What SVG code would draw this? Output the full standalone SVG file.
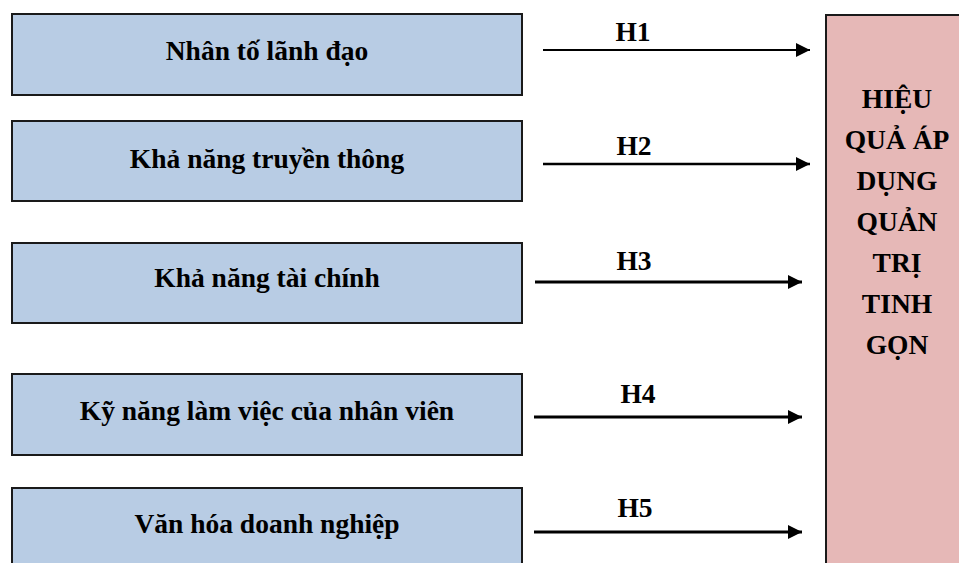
<svg xmlns="http://www.w3.org/2000/svg" width="959" height="563" viewBox="0 0 959 563">
  <style>
    .factor { fill: #b8cce4; stroke: #1a1a1a; stroke-width: 2; }
    .outcome { fill: #e6b8b7; stroke: #1a1a1a; stroke-width: 2; }
    .lbl { font-family: 'Liberation Serif', 'Times New Roman', 'DejaVu Serif', serif; font-weight: 700; font-size: 27.5px; fill: #000; text-anchor: middle; }
    .link { stroke: #000; fill: none; }
  </style>
  <defs>
    <marker id="arrow" markerUnits="userSpaceOnUse" markerWidth="15" markerHeight="15" refX="14" refY="7" orient="auto">
      <path d="M0,0 L14,7 L0,14 Z" fill="#000"/>
    </marker>
  </defs>
  <rect width="959" height="563" fill="#ffffff"/>

  <!-- factor boxes -->
  <g id="leadership">
    <rect class="factor" x="12" y="14" width="510" height="81"/>
    <text class="lbl" x="267" y="60" font-family="Liberation Serif, serif">Nhân tố lãnh đạo</text>
  </g>
  <g id="communication">
    <rect class="factor" x="12" y="121" width="510" height="80"/>
    <text class="lbl" x="267" y="168">Khả năng truyền thông</text>
  </g>
  <g id="finance">
    <rect class="factor" x="12" y="243" width="510" height="80"/>
    <text class="lbl" x="267" y="287">Khả năng tài chính</text>
  </g>
  <g id="staff-skills">
    <rect class="factor" x="12" y="374" width="510" height="81"/>
    <text class="lbl" x="267" y="420">Kỹ năng làm việc của nhân viên</text>
  </g>
  <g id="culture">
    <rect class="factor" x="12" y="488" width="510" height="90"/>
    <text class="lbl" x="267" y="533">Văn hóa doanh nghiệp</text>
  </g>

  <!-- outcome box -->
  <g id="lean-outcome">
    <rect class="outcome" x="826" y="15" width="145" height="560"/>
    <text class="lbl" x="897" y="108">HIỆU</text>
    <text class="lbl" x="897" y="149">QUẢ ÁP</text>
    <text class="lbl" x="897" y="190">DỤNG</text>
    <text class="lbl" x="897" y="231">QUẢN</text>
    <text class="lbl" x="897" y="272">TRỊ</text>
    <text class="lbl" x="897" y="313">TINH</text>
    <text class="lbl" x="897" y="354">GỌN</text>
  </g>

  <!-- hypotheses connectors -->
  <g id="connectors">
    <line class="link" x1="543" y1="50" x2="810" y2="50" stroke-width="2.2" marker-end="url(#arrow)"/>
    <text class="lbl" x="633" y="41">H1</text>
    <line class="link" x1="543" y1="164" x2="810" y2="164" stroke-width="2.6" marker-end="url(#arrow)"/>
    <text class="lbl" x="634" y="155">H2</text>
    <line class="link" x1="535" y1="282" x2="802" y2="282" stroke-width="3" marker-end="url(#arrow)"/>
    <text class="lbl" x="634" y="270">H3</text>
    <line class="link" x1="534" y1="417" x2="802" y2="417" stroke-width="3" marker-end="url(#arrow)"/>
    <text class="lbl" x="638" y="403">H4</text>
    <line class="link" x1="534" y1="532" x2="802" y2="532" stroke-width="3" marker-end="url(#arrow)"/>
    <text class="lbl" x="635" y="517">H5</text>
  </g>
</svg>
